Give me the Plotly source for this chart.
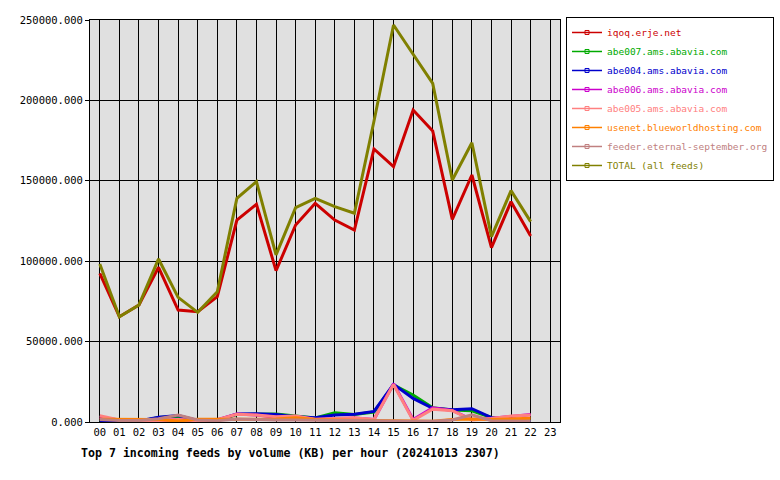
import plotly.graph_objects as go

hours = ["00","01","02","03","04","05","06","07","08","09","10","11","12","13","14","15","16","17","18","19","20","21","22","23"]
x_hours = list(range(23))

iqoq = [92500, 65500, 72800, 96200, 69600, 68600, 77900, 125600, 135400, 94100, 122500, 136000, 125600, 119400, 169800, 158800, 194000, 181000, 126000, 153600, 108400, 137000, 115700]
abe007 = [500, 300, 400, 2800, 3600, 900, 900, 4600, 5000, 5000, 3800, 2500, 5800, 4600, 6200, 23000, 16800, 8800, 7500, 7000, 2800, 600, 500]
abe004 = [400, 300, 600, 3000, 4000, 1000, 1000, 5000, 5200, 4600, 3300, 2700, 4400, 4800, 6600, 23400, 14700, 8500, 7600, 8300, 2700, 500, 400]
abe006 = [3000, 1200, 800, 700, 1500, 600, 1500, 5000, 4300, 3000, 3500, 1500, 2000, 2500, 1500, 23800, 1500, 8800, 7200, 1500, 2300, 3600, 4600]
abe005 = [3900, 1200, 900, 800, 1600, 700, 1400, 4800, 4400, 3300, 3700, 1700, 2200, 2700, 1600, 23300, 1000, 8000, 7000, 1300, 2200, 3700, 4400]
usenet = [1700, 1700, 1700, 1500, 600, 1700, 1700, 1800, 2000, 1800, 2600, 1500, 1200, 1000, 700, 500, 400, 400, 1500, 1800, 1600, 2000, 2300]
feeder = [1500, 1000, 1000, 2000, 4300, 1200, 800, 1800, 1600, 1200, 1300, 1000, 1000, 1000, 700, 500, 400, 400, 1200, 4500, 800, 600, 500]
total = [98300, 65500, 72800, 101400, 77500, 68200, 81000, 139100, 149500, 103900, 133300, 139100, 133900, 129800, 187000, 246900, 228700, 210600, 150500, 173700, 115300, 143900, 124600]

series = [
    ("iqoq.erje.net", iqoq, "#cc0000"),
    ("abe007.ams.abavia.com", abe007, "#00aa00"),
    ("abe004.ams.abavia.com", abe004, "#0000cc"),
    ("abe006.ams.abavia.com", abe006, "#cc00cc"),
    ("abe005.ams.abavia.com", abe005, "#ff8080"),
    ("usenet.blueworldhosting.com", usenet, "#ff8000"),
    ("feeder.eternal-september.org", feeder, "#c08080"),
    ("TOTAL (all feeds)", total, "#808000"),
]

FONT = "DejaVu Sans Mono"
fig = go.Figure()
for name, vals, col in series:
    fig.add_trace(go.Scatter(x=x_hours, y=vals, mode="lines",
                             line=dict(color=col, width=3),
                             showlegend=False, hoverinfo="skip"))
for name, vals, col in series:
    fig.add_trace(go.Scatter(x=[None], y=[None], mode="lines+markers",
                             name=f'<span style="color:{col}">{name}</span>',
                             line=dict(color=col, width=1.5),
                             marker=dict(symbol="square-open", size=4, color=col)))

fig.update_layout(
    width=780, height=480,
    margin=dict(l=90, r=220, t=20, b=58, autoexpand=False),
    paper_bgcolor="white", plot_bgcolor="#e0e0e0",
    font=dict(family=FONT, size=10, color="black"),
    showlegend=True,
    legend=dict(x=1.0128, y=1.0075, xanchor="left", yanchor="top",
                bordercolor="black", borderwidth=1, bgcolor="white",
                font=dict(family=FONT, size=9.5), tracegroupgap=0,
                itemwidth=30),
    xaxis=dict(range=[-0.5, 23.5], tickmode="array", tickvals=list(range(24)),
               ticktext=hours, showgrid=True, gridcolor="black", gridwidth=1,
               showline=True, linecolor="black", linewidth=1, mirror=True,
               zeroline=False, ticks="", tickfont=dict(family=FONT, size=10.5)),
    yaxis=dict(range=[0, 250000], tickmode="array",
               tickvals=[0, 50000, 100000, 150000, 200000, 250000],
               ticktext=["0.000", "50000.000", "100000.000", "150000.000", "200000.000", "250000.000"],
               showgrid=True, gridcolor="black", gridwidth=1,
               showline=True, linecolor="black", linewidth=1, mirror=True,
               zeroline=False, ticks="outside", ticklen=4, tickcolor="black",
               tickfont=dict(family=FONT, size=10.5)),
    annotations=[dict(text="<b>Top 7 incoming feeds by volume (KB) per hour (20241013 2307)</b>",
                      xref="paper", yref="paper", x=-0.0234, y=-0.055,
                      xanchor="left", yanchor="top", showarrow=False,
                      font=dict(family=FONT, size=11.6, color="black"))],
)

fig.write_html("out.html")
